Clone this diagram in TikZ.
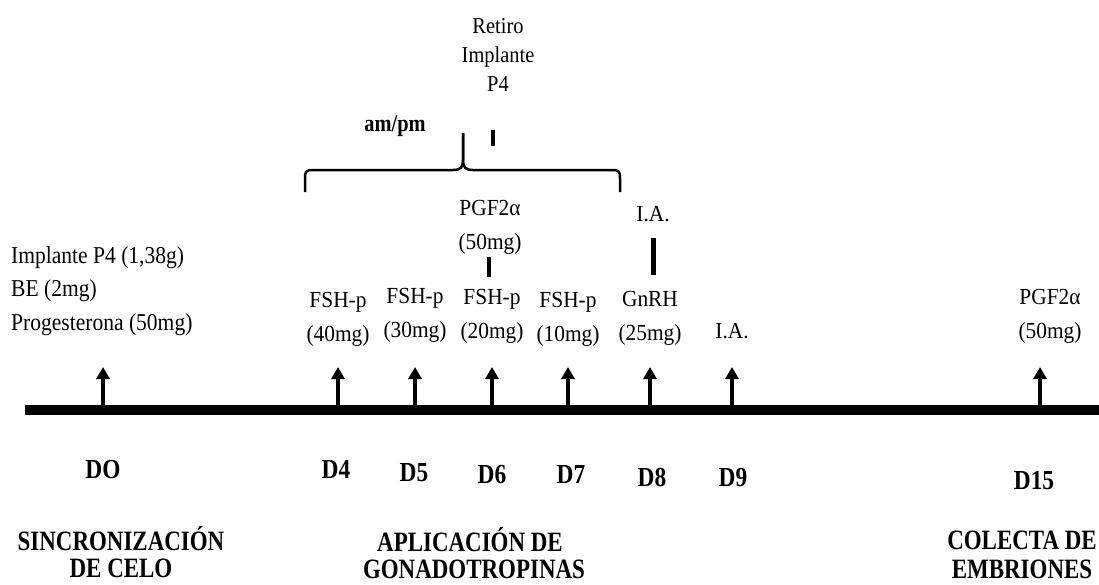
\documentclass[tikz,border=0pt]{standalone}
\usepackage{fontspec}
\setmainfont{Liberation Serif}
\newfontfamily\doserm[FakeStretch=0.93]{Liberation Serif}
\newfontfamily\leftrm[FakeStretch=0.89]{Liberation Serif}
\newfontfamily\toprm[FakeStretch=0.9]{Liberation Serif}
\newfontfamily\daybf[FakeStretch=0.85]{Liberation Serif Bold}
\newfontfamily\phasebf[FakeStretch=0.82]{Liberation Serif Bold}
\usetikzlibrary{arrows.meta}
\begin{document}
\begin{tikzpicture}[x=1pt,y=-1pt,
  dose/.style={font=\doserm\fontsize{23}{34}\selectfont, align=center, inner sep=0pt},
  leftdose/.style={font=\leftrm\fontsize{24.2}{33.5}\selectfont, align=left, inner sep=0pt, anchor=west},
  topdose/.style={font=\toprm\fontsize{22.7}{29}\selectfont, align=center, inner sep=0pt},
  daylbl/.style={font=\daybf\fontsize{27.5}{30}\selectfont, inner sep=0pt},
  phase/.style={font=\phasebf\fontsize{28}{30}\selectfont, inner sep=0pt, anchor=base},
  timeline/.style={line width=10pt},
  shot/.style={line width=4pt, -{Triangle[width=13pt,length=12pt]}},
  tick/.style={line width=4pt},
  bracket/.style={line width=2.5pt, line join=round}]
\useasboundingbox (0,0) rectangle (1099,584);

% time axis
\coordinate (barL) at (25,410);
\coordinate (barR) at (1099,410);
\draw[timeline] (barL) -- (barR);

% injection arrows
\foreach \n/\x in {0/103,4/338,5/415,6/492,7/568,8/650,9/732,15/1040}{
  \coordinate (b\n) at (\x,406);
  \coordinate (t\n) at (\x,367);
  \draw[shot] (b\n) -- (t\n);
}

% treatments above the axis
\node[leftdose] (sync) at (11,291) {Implante P4 (1,38g)\\BE (2mg)\\Progesterona (50mg)};
\node[dose] (fsh40) at (338,319) {FSH-p\\(40mg)};
\node[dose] (fsh30) at (415,315) {FSH-p\\(30mg)};
\node[dose] (fsh20) at (492,316) {FSH-p\\(20mg)};
\node[dose] (fsh10) at (568,319) {FSH-p\\(10mg)};
\node[dose] (gnrh) at (650,318) {GnRH\\(25mg)};
\node[dose] (ia9) at (732,331) {I.A.};
\node[dose] (pgf15) at (1050,316) {PGF2α\\(50mg)};

% second row of treatments
\node[dose] (pgf6) at (490,227) {PGF2α\\(50mg)};
\coordinate (pgfA) at (489,257);
\coordinate (pgfB) at (489,277);
\draw[tick] (pgfA) -- (pgfB);
\node[dose] (ia8) at (653,214) {I.A.};
\coordinate (iaA) at (653,238);
\coordinate (iaB) at (653,275);
\draw[line width=5pt] (iaA) -- (iaB);

% implant withdrawal
\node[topdose] (retiro) at (498,55) {Retiro\\Implante\\P4};
\coordinate (retA) at (493,130);
\coordinate (retB) at (493,146);
\draw[tick] (retA) -- (retB);

% am/pm bracket
\node[font=\daybf\fontsize{24}{28}\selectfont, inner sep=0pt] (ampm) at (395,126) {am/pm};
\coordinate (brL) at (305,192);
\coordinate (brR) at (620,192);
\coordinate (brTip) at (463,133);
\draw[bracket] (brL) -- (305,179) .. controls (305,171) and (306,170) .. (313,170)
  -- (453,170) .. controls (461,170) and (463,167) .. (463,160) -- (brTip);
\draw[bracket] (brTip) -- (463,160) .. controls (463,167) and (465,170) .. (473,170)
  -- (612,170) .. controls (619,170) and (620,171) .. (620,179) -- (brR);

% day labels
\node[daylbl] (d0) at (103,470) {DO};
\node[daylbl] (d4) at (336,469) {D4};
\node[daylbl] (d5) at (414,473) {D5};
\node[daylbl] (d6) at (492,475) {D6};
\node[daylbl] (d7) at (571,475) {D7};
\node[daylbl] (d8) at (652,477) {D8};
\node[daylbl] (d9) at (733,478) {D9};
\node[daylbl] (d15) at (1034,481) {D15};

% phases
\node[phase] (ph1a) at (121,550) {SINCRONIZACIÓN};
\node[phase] (ph1b) at (121,577) {DE CELO};
\node[phase] (ph2a) at (470,551) {APLICACIÓN DE};
\node[phase] (ph2b) at (474,578) {GONADOTROPINAS};
\node[phase] (ph3a) at (1022,549) {COLECTA DE};
\node[phase] (ph3b) at (1022,578) {EMBRIONES};
\end{tikzpicture}
\end{document}
